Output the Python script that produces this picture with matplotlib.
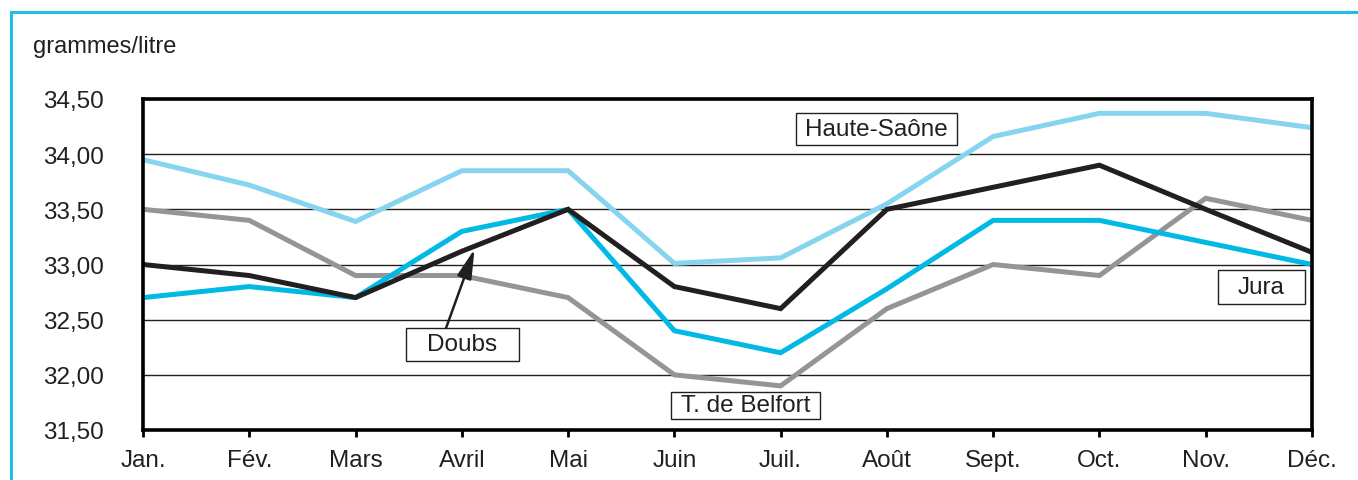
import matplotlib
matplotlib.use("Agg")
import matplotlib.pyplot as plt
from matplotlib.patches import Rectangle
from matplotlib.lines import Line2D

plt.rcParams['font.family'] = ['Liberation Sans', 'DejaVu Sans']

months = ["Jan.", "Fév.", "Mars", "Avril", "Mai", "Juin", "Juil.", "Août",
          "Sept.", "Oct.", "Nov.", "Déc."]
haute_saone = [33.95, 33.72, 33.39, 33.85, 33.85, 33.01, 33.06, 33.55, 34.16, 34.37, 34.37, 34.24]
doubs = [33.00, 32.90, 32.70, 33.12, 33.50, 32.80, 32.60, 33.50, 33.70, 33.90, 33.50, 33.11]
jura = [32.70, 32.80, 32.70, 33.30, 33.50, 32.40, 32.20, 32.78, 33.40, 33.40, 33.20, 33.00]
belfort = [33.50, 33.40, 32.90, 32.90, 32.70, 32.00, 31.90, 32.60, 33.00, 32.90, 33.60, 33.40]
yticks = [31.5, 32.0, 32.5, 33.0, 33.5, 34.0, 34.5]
ytick_labels = ["31,50", "32,00", "32,50", "33,00", "33,50", "34,00", "34,50"]

W, H = 1358, 481
fig = plt.figure(figsize=(W / 100, H / 100), dpi=100)
ax = fig.add_axes([143/W, 1-431/H, (1312-143)/W, (431-100)/H])

x = list(range(len(months)))
lw = 3.6
ax.plot(x, haute_saone, color="#86d4ef", lw=lw, solid_joinstyle="miter", zorder=3)
ax.plot(x, belfort, color="#939598", lw=lw, solid_joinstyle="miter", zorder=3)
ax.plot(x, doubs, color="#231f20", lw=lw, solid_joinstyle="miter", zorder=4)
ax.plot(x, jura, color="#00b9e4", lw=lw, solid_joinstyle="miter", zorder=3)

ax.set_xlim(0, 11)
ax.set_ylim(31.5, 34.5)
ax.set_yticks(yticks)
ax.set_yticklabels(ytick_labels)
ax.set_xticks(x)
ax.set_xticklabels(months)
ax.yaxis.grid(True, color="#231f20", lw=1.0)
ax.set_axisbelow(True)
for s in ax.spines.values():
    s.set_linewidth(2.6)
    s.set_color("#000000")
    s.set_zorder(5)
ax.tick_params(axis='x', length=5, width=2, direction='out', pad=8.5,
               labelsize=17.5, labelcolor="#231f20")
ax.tick_params(axis='y', length=0, pad=28,
               labelsize=17.5, labelcolor="#231f20")


def label_box(text, x0, y0, x1, y1, z=6):
    # pixel coords with origin at top-left
    fig.add_artist(Rectangle((x0 / W, 1 - y1 / H), (x1 - x0) / W, (y1 - y0) / H,
                             transform=fig.transFigure, fc="white", ec="#231f20",
                             lw=1.0, zorder=z))
    fig.text((x0 + x1) / 2 / W, 1 - (y0 + y1) / 2 / H, text, fontsize=17.5,
             color="#231f20", ha="center", va="center", zorder=z + 0.5)


ax.annotate("", xy=(3.12, 33.14), xytext=(2.85, 32.42),
            arrowprops=dict(arrowstyle="-|>,head_length=1.0,head_width=0.25",
                            color="#231f20", lw=1.8, shrinkA=0, shrinkB=0,
                            mutation_scale=18), zorder=6)
label_box("Haute-Saône", 796, 114, 957, 146)
label_box("Doubs", 406, 329, 519, 362)
label_box("T. de Belfort", 671, 393, 820, 420)
label_box("Jura", 1218, 271, 1305, 305)

fig.text(33/W, 1-47/H, "grammes/litre", fontsize=17, color="#231f20",
         ha="left", va="center")

# cyan frame
fig.add_artist(Line2D([11/W, 1.0], [1-13/H, 1-13/H], transform=fig.transFigure,
                      color="#1fbfe0", lw=2.2))
fig.add_artist(Line2D([11/W, 11/W], [0, 1-13/H], transform=fig.transFigure,
                      color="#1fbfe0", lw=2.2))

fig.savefig("out.png", dpi=100)
